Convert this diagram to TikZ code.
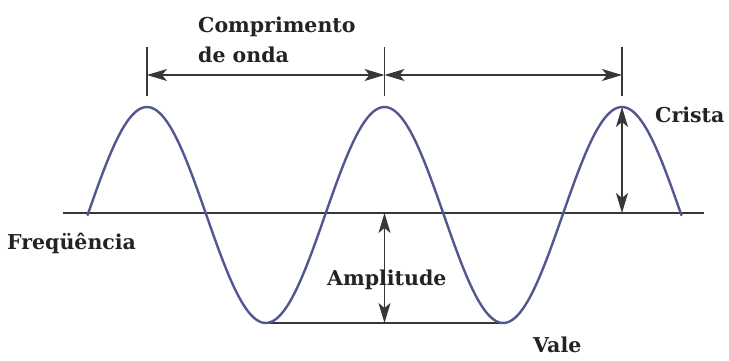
\documentclass[tikz,border=0pt]{standalone}
\usepackage{fontspec}
\setmainfont{DejaVu Serif}
\usetikzlibrary{arrows.meta}
\definecolor{wavecol}{RGB}{82,86,145}
\definecolor{linecol}{RGB}{55,55,55}
\definecolor{txtcol}{RGB}{35,35,35}
\tikzset{
  lbl/.style={font=\bfseries\fontsize{20.5}{30}\selectfont, text=txtcol, inner sep=0pt},
  tick/.style={draw=linecol, line width=1.1pt},
  dimarrow/.style={draw=linecol, line width=1.1pt, {Stealth[length=20pt,width=12pt,inset=5pt]}-{Stealth[length=20pt,width=12pt,inset=5pt]}},
  axisline/.style={draw=linecol, line width=1.3pt},
}
\begin{document}
\begin{tikzpicture}[x=1pt,y=-1pt]
\useasboundingbox (0,0) rectangle (729,361);
% key coordinates
\coordinate (crestA) at (147,107);
\coordinate (crestB) at (384.5,107);
\coordinate (crestC) at (622,107);
\coordinate (troughA) at (265.75,323);
\coordinate (troughB) at (503.25,323);
\coordinate (baseL) at (63,213);
\coordinate (baseR) at (704,213);
\coordinate (baseC) at (622,213);
\coordinate (baseB) at (384.5,213);
\coordinate (troughBase) at (384.5,323);
\coordinate (tA1) at (147,47);
\coordinate (tA2) at (147,96);
\coordinate (tB1) at (384.5,47);
\coordinate (tB2) at (384.5,96);
\coordinate (tC1) at (622,47);
\coordinate (tC2) at (622,96);
\coordinate (arA) at (147,75);
\coordinate (arB) at (384.5,75);
\coordinate (arC) at (622,75);
% baseline and trough line
\draw[axisline] (baseL) -- (baseR);
\draw[axisline] (troughA) -- (troughB);
% wave
\draw[wavecol, line width=2.4pt, line cap=round] plot[domain=87.6:681.4, samples=240, smooth] (\x, {215-108*sin(((\x-87.6)/237.5)*360)});
% ticks
\draw[tick] (tA1) -- (tA2);
\draw[tick] (tB1) -- (tB2);
\draw[tick] (tC1) -- (tC2);
% wavelength arrows
\draw[dimarrow] (arA) -- (arB);
\draw[dimarrow] (arB) -- (arC);
% amplitude arrows
\draw[dimarrow] (crestC) -- (baseC);
\draw[dimarrow] (baseB) -- (troughBase);
% labels
\node[lbl, anchor=west, align=left] (comp) at (198,40) {Comprimento\\de onda};
\node[lbl, anchor=west] (crista) at (655,115) {Crista};
\node[lbl, anchor=west] (freq) at (7,243) {Freqüência};
\node[lbl, anchor=west] (ampl) at (327,280) {Amplitude};
\node[lbl, anchor=west] (vale) at (533,345) {Vale};
\end{tikzpicture}
\end{document}
